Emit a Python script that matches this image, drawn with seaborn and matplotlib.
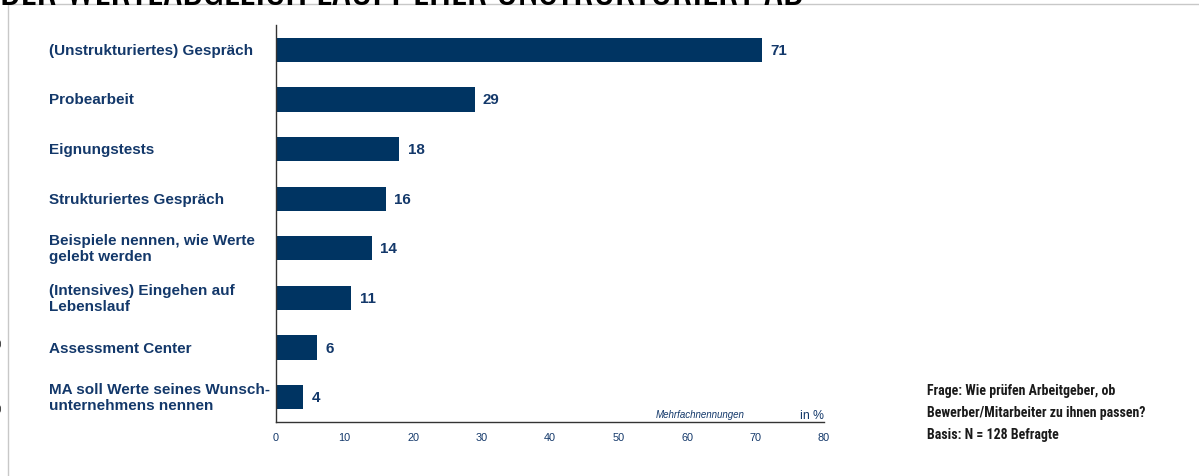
import matplotlib
matplotlib.use("Agg")
import matplotlib.pyplot as plt
import matplotlib.transforms as mtrans
import seaborn as sns
import pandas as pd
from matplotlib.lines import Line2D
import logging
logging.getLogger("matplotlib.font_manager").setLevel(logging.ERROR)

categories = [
    "(Unstrukturiertes) Gespräch",
    "Probearbeit",
    "Eignungstests",
    "Strukturiertes Gespräch",
    "Beispiele nennen, wie Werte\ngelebt werden",
    "(Intensives) Eingehen auf\nLebenslauf",
    "Assessment Center",
    "MA soll Werte seines Wunsch-\nunternehmens nennen",
]
values = [71, 29, 18, 16, 14, 11, 6, 4]
xticks = [0, 10, 20, 30, 40, 50, 60, 70, 80]

title = "DER WERTEABGLEICH LÄUFT EHER UNSTRUKTURIERT AB"
note = "Frage: Wie prüfen Arbeitgeber, ob\nBewerber/Mitarbeiter zu ihnen passen?\nBasis: N = 128 Befragte"

BAR = "#003462"
TXT = "#13386a"

sns.set_theme(style="white")
plt.rcParams["font.family"] = ["Liberation Sans", "DejaVu Sans"]
NARROW = ["Roboto Condensed", "Barlow Condensed", "IBM Plex Sans Condensed",
          "DejaVu Sans"]
HEAVY = ["Oswald", "Roboto Condensed", "Barlow Condensed",
         "IBM Plex Sans Condensed", "DejaVu Sans"]

df = pd.DataFrame({"cat": categories, "val": values})

W, H = 1199, 477
fig = plt.figure(figsize=(W / 100, H / 100), dpi=100)
ax = fig.add_axes([276 / W, 1 - 423 / H, (824 - 276) / W, (423 - 26) / H])

sns.barplot(data=df, x="val", y="cat", orient="h", color=BAR, width=0.49,
            saturation=1, ax=ax, edgecolor="none")

ax.set_xlim(0, 80)
ax.set_ylim(7.5, -0.5)
ax.set_xticks(xticks)
ax.set_xticklabels([str(t) for t in xticks], fontsize=7.8, color=TXT)
ax.tick_params(axis="x", length=0, pad=7)
ax.set_yticks([])
ax.set_xlabel("")
ax.set_ylabel("")
for s in ["top", "right"]:
    ax.spines[s].set_visible(False)
for s in ["left", "bottom"]:
    ax.spines[s].set_color("#333333")
    ax.spines[s].set_linewidth(1.0)

blend = mtrans.blended_transform_factory(fig.transFigure, ax.transData)
for i, c in enumerate(categories):
    ax.text(49 / W, i, c, transform=blend, fontsize=11, fontweight="bold",
            color=TXT, ha="left", va="center", linespacing=1.2, clip_on=False)

for i, v in enumerate(values):
    ax.annotate(str(v), (v, i), xytext=(6, 0), textcoords="offset points",
                fontsize=10.9, fontweight="bold", color=TXT, ha="left",
                va="center")

ax.text(700 / W, 1 - 415 / H, "Mehrfachnennungen", transform=fig.transFigure,
        fontsize=7, style="italic", color=TXT, ha="center", va="center")
ax.text(812 / W, 1 - 416 / H, "in %", transform=fig.transFigure,
        fontsize=8.8, color=TXT, ha="center", va="center")

fig.text(927 / W, 1 - 413 / H, note, fontsize=10, fontweight="bold",
         family=NARROW, color="#1a1a1a",
         ha="left", va="center", linespacing=1.75)

fig.add_artist(Line2D([8 / W, 1], [1 - 5 / H, 1 - 5 / H], transform=fig.transFigure,
                      color="#c8c8c8", lw=1))
fig.add_artist(Line2D([8 / W, 8 / W], [0, 1 - 5 / H], transform=fig.transFigure,
                      color="#c8c8c8", lw=1))

fig.text(0 / W, 1 - 5 / H, title, fontsize=28.2, fontweight="bold",
         family=HEAVY, color="black", ha="left", va="baseline")

for yy in [345, 410]:
    fig.text(-4 / W, 1 - yy / H, "0", fontsize=7, color="#333333",
             ha="left", va="center")

fig.savefig("out.png", dpi=100)
